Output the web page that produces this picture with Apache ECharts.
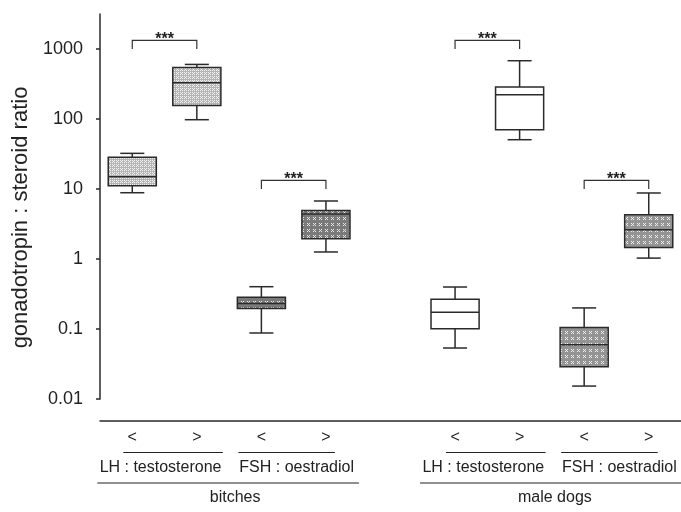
<!DOCTYPE html>
<html><head><meta charset="utf-8">
<script src="https://cdn.jsdelivr.net/npm/echarts@6/dist/echarts.min.js"></script>
<style>html,body{margin:0;padding:0;background:#fff}#c{width:681px;height:512px}</style>
</head><body><div id="c"></div>
<script>
// ---- data ----
const categories = ['<', '>', '<', '>', '', '<', '>', '<', '>'];
const ratioGroups = ['LH : testosterone', 'FSH : oestradiol', 'LH : testosterone', 'FSH : oestradiol'];
const animalGroups = ['bitches', 'male dogs'];
// box statistics: [min, Q1, median, Q3, max]
const bitchesLH_lt  = [8.85, 11.1, 15.0, 28.3, 32.3];
const bitchesLH_gt  = [97.7, 156, 330, 546, 602];
const bitchesFSH_lt = [0.0877, 0.197, 0.232, 0.283, 0.402];
const bitchesFSH_gt = [1.26, 1.95, 4.39, 4.95, 6.74];
const dogsLH_lt     = [0.0535, 0.101, 0.173, 0.265, 0.398];
const dogsLH_gt     = [50.6, 70.3, 222, 286, 680];
const dogsFSH_lt    = [0.0153, 0.0289, 0.0597, 0.105, 0.2];
const dogsFSH_gt    = [1.03, 1.46, 2.62, 4.29, 8.77];
const boxCategoryIndex = [0, 1, 2, 3, 5, 6, 7, 8];
const yTickValues = [0.01, 0.1, 1, 10, 100, 1000];
const sigPairs = [[0, 1], [2, 3], [5, 6], [7, 8]];
const sigLabels = ['***', '***', '***', '***'];

const boxes = [bitchesLH_lt, bitchesLH_gt, bitchesFSH_lt, bitchesFSH_gt, dogsLH_lt, dogsLH_gt, dogsFSH_lt, dogsFSH_gt];

// ---- styles ----
const FONT = "'Liberation Sans', Arial, sans-serif";
const INK = '#2a2a2a';
function makePattern(size, bg, fg, pts) {
  const c = document.createElement('canvas');
  c.width = size; c.height = size;
  const g = c.getContext('2d');
  g.fillStyle = bg; g.fillRect(0, 0, size, size);
  g.fillStyle = fg;
  pts.forEach(p => g.fillRect(p[0], p[1], 1, 1));
  return { image: c, repeat: 'repeat' };
}
const patDots = makePattern(4, '#b4b4b4', '#f2f2f2', [[0,0],[2,0],[0,2],[2,2],[1,1]]);
const patDark = makePattern(6, '#7a7a7a', '#e6e6e6', [[1,1],[3,1],[2,2],[1,3],[3,3]]);
const patMid  = makePattern(6, '#949494', '#f0f0f0', [[1,1],[3,1],[2,2],[1,3],[3,3]]);
const boxFills = [patDots, patDots, patDark, patDark, '#ffffff', '#ffffff', patMid, patMid];

const boxData = boxes.map((b, i) => [boxCategoryIndex[i], b[0], b[1], b[2], b[3], b[4], i]);
const boxByCat = {};
boxes.forEach((b, i) => { boxByCat[boxCategoryIndex[i]] = b; });
const bracketData = sigPairs.map((p, i) => {
  const m = Math.max(boxByCat[p[0]][4], boxByCat[p[1]][4]);
  return [p[0], p[1], Math.pow(10, Math.ceil(Math.log10(m))), i];
});

function renderBox(params, api) {
  const xi = api.value(0);
  const pMin = api.coord([xi, api.value(1)]);
  const pQ1 = api.coord([xi, api.value(2)]);
  const pMed = api.coord([xi, api.value(3)]);
  const pQ3 = api.coord([xi, api.value(4)]);
  const pMax = api.coord([xi, api.value(5)]);
  const bw = api.size([1, 1])[0] * 0.745;
  const hw = bw / 2, cw = bw / 4, x = pMed[0];
  const ls = { stroke: INK, lineWidth: 1.5 };
  return { type: 'group', children: [
    { type: 'line', shape: { x1: x, y1: pQ3[1], x2: x, y2: pMax[1] }, style: ls },
    { type: 'line', shape: { x1: x - cw, y1: pMax[1], x2: x + cw, y2: pMax[1] }, style: ls },
    { type: 'line', shape: { x1: x, y1: pQ1[1], x2: x, y2: pMin[1] }, style: ls },
    { type: 'line', shape: { x1: x - cw, y1: pMin[1], x2: x + cw, y2: pMin[1] }, style: ls },
    { type: 'rect', shape: { x: x - hw, y: pQ3[1], width: bw, height: pQ1[1] - pQ3[1] },
      style: { fill: boxFills[api.value(6)], stroke: INK, lineWidth: 1.5 } },
    { type: 'line', shape: { x1: x - hw, y1: pMed[1], x2: x + hw, y2: pMed[1] }, style: ls }
  ]};
}
function renderBracket(params, api) {
  const a = api.value(0), b = api.value(1), base = api.value(2);
  const p1 = api.coord([a, base]), p2 = api.coord([b, base]);
  const y = api.coord([a, base * 1.33])[1];
  return { type: 'group', children: [
    { type: 'polyline', shape: { points: [[p1[0], p1[1]], [p1[0], y], [p2[0], y], [p2[0], p2[1]]] },
      style: { stroke: '#333', lineWidth: 1.2, fill: null } },
    { type: 'text', x: (p1[0] + p2[0]) / 2, y: y + 7,
      style: { text: sigLabels[api.value(3)], font: 'bold 16px ' + FONT, fill: '#222', align: 'center', verticalAlign: 'bottom' } }
  ]};
}

const chart = echarts.init(document.getElementById('c'), null, { renderer: 'canvas' });
chart.setOption({
  animation: false,
  backgroundColor: '#fff',
  grid: { left: 100, right: 0, top: 14, bottom: 113 },
  xAxis: {
    type: 'category', data: categories, offset: 22,
    axisLine: { lineStyle: { color: INK, width: 1.5 } },
    axisTick: { alignWithLabel: true, length: 4, interval: (i) => categories[i] !== '', lineStyle: { color: INK, width: 1.5 } },
    axisLabel: { interval: 0, margin: 9, fontSize: 16, color: '#222', fontFamily: FONT },
    splitLine: { show: false }
  },
  yAxis: {
    type: 'log', logBase: 10, min: 0.01, max: Math.pow(10, 3.5),
    name: 'gonadotropin : steroid ratio', nameLocation: 'middle', nameGap: 66,
    nameTextStyle: { fontSize: 22, color: '#222', fontFamily: FONT, padding: [0, 22, 0, 0] },
    axisLine: { show: true, lineStyle: { color: INK, width: 1.5 } },
    axisTick: { show: true, length: 4, customValues: yTickValues, lineStyle: { color: INK, width: 1.5 } },
    axisLabel: { customValues: yTickValues, margin: 17, fontSize: 18, color: '#222', fontFamily: FONT,
      formatter: (v) => String(+Number(v).toPrecision(3)) },
    splitLine: { show: false }
  },
  series: [
    { type: 'custom', renderItem: renderBox, data: boxData, encode: { x: 0, y: [1, 2, 3, 4, 5] } },
    { type: 'custom', renderItem: renderBracket, data: bracketData, encode: { x: [0, 1], y: 2 } }
  ]
});

// hierarchical category annotations below the axis
const cx = categories.map((c, i) => chart.convertToPixel({ xAxisIndex: 0 }, i));
const lineStyle = { stroke: '#222', lineWidth: 1.2 };
const txt = (t, x, y) => ({ type: 'text', x: x, y: y, style: { text: t, font: '16px ' + FONT, fill: '#222', align: 'center', verticalAlign: 'middle' } });
const hl = (x1, x2, y) => ({ type: 'line', shape: { x1: x1, y1: y, x2: x2, y2: y }, style: lineStyle });
const subY = 452.5, subTY = 468, grpY = 483, grpTY = 498;
const pairs = [[0, 1], [2, 3], [5, 6], [7, 8]];
const g = [];
pairs.forEach((p, k) => {
  const isLH = k % 2 === 0;
  g.push(hl(cx[p[0]] - (isLH ? 9 : 23), cx[p[1]] + (isLH ? 26 : 9), subY));
  g.push(txt(ratioGroups[k], (cx[p[0]] + cx[p[1]]) / 2 + (isLH ? -4 : 3), subTY));
});
[[0, 3], [5, 8]].forEach((p, k) => {
  g.push(hl(cx[p[0]] - 35, cx[p[1]] + 33, grpY));
  g.push(txt(animalGroups[k], (cx[p[0]] + cx[p[1]]) / 2 + (k === 0 ? 6 : 3), grpTY));
});
chart.setOption({ graphic: g });
</script>
</body></html>
